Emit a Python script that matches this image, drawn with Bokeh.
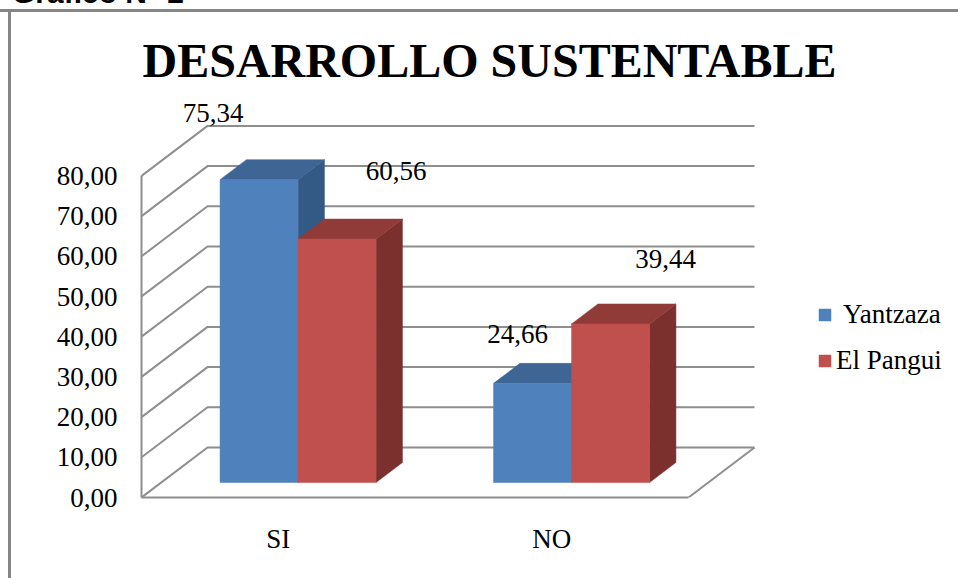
from bokeh.plotting import figure
from bokeh.layouts import column
from bokeh.models import (ColumnDataSource, Div, FixedTicker, Legend, LegendItem,
                          LinearAxis, Range1d, Title)
from bokeh.core.properties import value
from bokeh.embed import file_html
from bokeh.resources import INLINE

categories = ["SI", "NO"]
series_names = ["Yantzaza", "El Pangui"]
yantzaza = [75.34, 24.66]
el_pangui = [60.56, 39.44]
y_ticks = [0, 10, 20, 30, 40, 50, 60, 70, 80]
y_tick_labels = ["0,00", "10,00", "20,00", "30,00", "40,00", "50,00", "60,00", "70,00", "80,00"]
top_label = "Gráfico N° 2"
chart_title = "DESARROLLO SUSTENTABLE"

# layout of the oblique projection
W, H = 958, 578
F_L, F_R, F_T, F_B = 141, 945, 95, 497
PX_X = 273.5          # pixels per category
PX_Y = 4.02           # pixels per value unit
DX = 66 / PX_X        # shift of the back wall, in x units
DY = 50 / PX_Y        # shift of the back wall, in value units
BAR_W = 78 / PX_X
D_FRONT, D_BACK = 0.3, 0.7
COLORS = [("#4F81BD", "#3E6594", "#335A84"), ("#C0504D", "#913B39", "#7B302E")]
# label shifts from the top of each bar's front, in pixels
LABEL_SHIFT = [[(-46, -67), (-15, -49)], [(59, -68), (55, -65)]]

FONT = "Liberation Serif"
GRID = "#8E8E8E"
BORDER = "#868686"


def proj(x, d, v):
    return x + d * DX, v + d * DY


# The outer frame of the picture shows only its top and left edges; it is the page background.
frame_css = (f"linear-gradient({BORDER},{BORDER}) 0 9px / 100% 3px no-repeat, "
             f"linear-gradient({BORDER},{BORDER}) 8px 9px / 3px 100% no-repeat, white")

p = figure(width=W, height=H, output_backend="svg", toolbar_location=None,
           x_range=Range1d(0, (F_R - F_L) / PX_X), y_range=Range1d(0, (F_B - F_T) / PX_Y),
           x_axis_type=None, y_axis_type=None,
           min_border_left=F_L, min_border_right=W - F_R, min_border_top=F_T, min_border_bottom=H - F_B,
           margin=0, styles={"background": frame_css})
p.outline_line_color = None
p.grid.visible = False
p.background_fill_color = None
p.border_fill_color = None

p.add_layout(Title(text=chart_title, text_font=FONT, text_font_size="48px", text_font_style="bold",
                   text_color="black", align="left", offset=1, standoff=17), "above")

# walls and floor
xs, ys = [], []
for t in y_ticks:
    x0, y0 = proj(0, 0, t)
    x1, y1 = proj(0, 1, t)
    x2, y2 = proj(len(categories), 1, t)
    xs.append([x0, x1, x2])
    ys.append([y0, y1, y2])
x0, y0 = proj(len(categories), 0, 0)
x1, y1 = proj(len(categories), 1, 0)
xs.append([x0, x1])
ys.append([y0, y1])
p.multi_line(xs, ys, line_color=GRID, line_width=2)

# axes
yax = LinearAxis(ticker=FixedTicker(ticks=y_ticks), bounds=(0, 80),
                 major_label_overrides={t: s for t, s in zip(y_ticks, y_tick_labels)},
                 major_tick_line_color=None, minor_tick_line_color=None,
                 axis_line_color=GRID, axis_line_width=2,
                 major_label_text_font=FONT, major_label_text_font_size="27px",
                 major_label_text_color="black", major_label_standoff=18)
p.add_layout(yax, "left")
centers = [i + 0.5 for i in range(len(categories))]
xax = LinearAxis(ticker=FixedTicker(ticks=centers), bounds=(0, len(categories)),
                 major_label_overrides={c: s for c, s in zip(centers, categories)},
                 major_tick_line_color=None, minor_tick_line_color=None,
                 axis_line_color=GRID, axis_line_width=2,
                 major_label_text_font=FONT, major_label_text_font_size="27px",
                 major_label_text_color="black", major_label_standoff=20)
p.add_layout(xax, "below")

# bars
legend_rends = []
label_data = dict(x=[], y=[], text=[], dx=[], dy=[])
for s, (name, vals, cols, shifts) in enumerate(zip(series_names, [yantzaza, el_pangui], COLORS, LABEL_SHIFT)):
    front_x, front_y, top_x, top_y, side_x, side_y = [], [], [], [], [], []
    for c, v in enumerate(vals):
        l = c + 0.5 + (s - 1) * BAR_W
        r = l + BAR_W
        a = proj(l, D_FRONT, 0); b = proj(r, D_FRONT, 0)
        e = proj(r, D_FRONT, v); f = proj(l, D_FRONT, v)
        g = proj(r, D_BACK, 0); h = proj(r, D_BACK, v); i = proj(l, D_BACK, v)
        front_x.append([a[0], b[0], e[0], f[0]]); front_y.append([a[1], b[1], e[1], f[1]])
        top_x.append([f[0], e[0], h[0], i[0]]); top_y.append([f[1], e[1], h[1], i[1]])
        side_x.append([b[0], g[0], h[0], e[0]]); side_y.append([b[1], g[1], h[1], e[1]])
        label_data["x"].append((f[0] + e[0]) / 2)
        label_data["y"].append(f[1])
        label_data["text"].append(f"{v:.2f}".replace(".", ","))
        label_data["dx"].append(shifts[c][0])
        label_data["dy"].append(shifts[c][1])
    p.patches(side_x, side_y, fill_color=cols[2], line_color=cols[2], line_width=0.5)
    p.patches(top_x, top_y, fill_color=cols[1], line_color=cols[1], line_width=0.5)
    rf = p.patches(front_x, front_y, fill_color=cols[0], line_color=cols[0], line_width=0.5)
    legend_rends.append(rf)

p.text(x="x", y="y", text="text", x_offset="dx", y_offset="dy", source=ColumnDataSource(label_data),
       text_font=value(FONT), text_font_size="27px", text_color="black",
       text_align="center", text_baseline="middle")

# two legends: the reference sets its two entries at different distances from the swatch
for name, rend, loc, standoff in zip(series_names, legend_rends, [(676, 167), (676, 121)], [11, 4]):
    p.add_layout(Legend(items=[LegendItem(label=name, renderers=[rend])], location=loc,
                        background_fill_alpha=0, border_line_color=None, margin=0, padding=0,
                        glyph_width=15, glyph_height=15, label_standoff=standoff,
                        label_text_font=FONT, label_text_font_size="27px", label_text_color="black"),
                 "center")

# the caption above the picture is cut by the top of the page in the reference
caption = Div(text=top_label, width=300, height=0, margin=0,
              styles={"font-family": "Liberation Sans", "font-weight": "bold", "font-size": "30px",
                      "line-height": "30px", "color": "black", "white-space": "nowrap",
                      "transform": "translate(12px, -22px)", "z-index": "5"})

open("out.html", "w").write(file_html(column(caption, p, spacing=0, margin=0), INLINE))
